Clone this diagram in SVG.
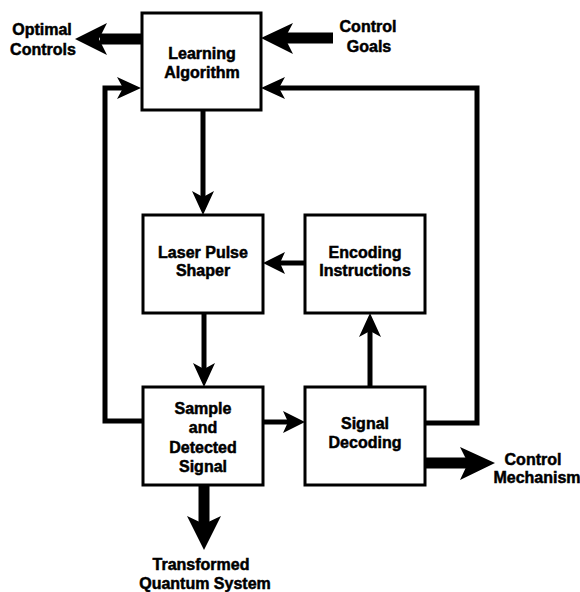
<svg xmlns="http://www.w3.org/2000/svg" width="580" height="592" viewBox="0 0 580 592">
  <style>
    .box { fill: #fff; stroke: #000; stroke-width: 3; }
    .lbl { font-family: "Liberation Sans", Arial, sans-serif; font-weight: bold; font-size: 16px; fill: #000; stroke: #000; stroke-width: 0.5; text-anchor: middle; }
    .thin { fill: none; stroke: #000; stroke-width: 5; stroke-linejoin: miter; }
    .thick { fill: none; stroke: #000; stroke-width: 11; }
    .head { fill: #000; stroke: none; }
  </style>
  <rect width="580" height="592" fill="#fff"/>

  <!-- connectors -->
  <g id="connectors">
    <!-- Optimal Controls output -->
    <line class="thick" x1="141" y1="39" x2="100" y2="39"/>
    <path class="head" d="M75,39 L107,23 L99,39 L107,55 Z"/>
    <!-- Control Goals input -->
    <line class="thick" x1="333" y1="38" x2="285" y2="38"/>
    <path class="head" d="M261,38 L293,23 L285,38 L293,54 Z"/>
    <!-- left feedback: Sample -> Learning Algorithm -->
    <path class="thin" d="M142,421 H105 V88 H125"/>
    <path class="head" d="M141,88 L117,77 L123,88 L117,99 Z"/>
    <!-- right feedback: Signal Decoding -> Learning Algorithm -->
    <path class="thin" d="M425,423 H477 V88 H275"/>
    <path class="head" d="M261,88 L285,77 L279,88 L285,99 Z"/>
    <!-- Learning Algorithm -> Laser Pulse Shaper -->
    <line class="thin" x1="203" y1="110" x2="203" y2="198"/>
    <path class="head" d="M203,215 L192,191 L203,197 L214,191 Z"/>
    <!-- Encoding Instructions -> Laser Pulse Shaper -->
    <line class="thin" x1="305" y1="263" x2="278" y2="263"/>
    <path class="head" d="M263,263 L285,252 L280,263 L285,274 Z"/>
    <!-- Laser Pulse Shaper -> Sample -->
    <line class="thin" x1="204" y1="313" x2="204" y2="370"/>
    <path class="head" d="M204,387 L193,363 L204,369 L215,363 Z"/>
    <!-- Sample -> Signal Decoding -->
    <line class="thin" x1="263" y1="422" x2="290" y2="422"/>
    <path class="head" d="M305,422 L283,411 L288,422 L283,433 Z"/>
    <!-- Signal Decoding -> Encoding Instructions -->
    <line class="thin" x1="370" y1="387" x2="370" y2="330"/>
    <path class="head" d="M370,313 L359,337 L370,331 L381,337 Z"/>
    <!-- Control Mechanism output -->
    <line class="thick" x1="425" y1="463" x2="470" y2="463"/>
    <path class="head" d="M495,463 L460,447 L468,463 L460,480 Z"/>
    <!-- Transformed Quantum System output -->
    <line class="thick" x1="204" y1="485" x2="204" y2="525"/>
    <path class="head" d="M204,550 L187,516 L204,524 L221,516 Z"/>
  </g>

  <!-- nodes -->
  <g id="learning">
    <rect class="box" x="142" y="13" width="119" height="97"/>
    <text class="lbl" x="202" y="59">Learning</text>
    <text class="lbl" x="202" y="78">Algorithm</text>
  </g>
  <g id="laser">
    <rect class="box" x="143" y="215" width="120" height="98"/>
    <text class="lbl" x="203" y="258">Laser Pulse</text>
    <text class="lbl" x="203" y="276">Shaper</text>
  </g>
  <g id="encoding">
    <rect class="box" x="305" y="215" width="120" height="98"/>
    <text class="lbl" x="365" y="258">Encoding</text>
    <text class="lbl" x="365" y="276">Instructions</text>
  </g>
  <g id="sample">
    <rect class="box" x="143" y="387" width="120" height="98"/>
    <text class="lbl" x="203" y="414">Sample</text>
    <text class="lbl" x="203" y="433">and</text>
    <text class="lbl" x="203" y="453">Detected</text>
    <text class="lbl" x="203" y="472">Signal</text>
  </g>
  <g id="decoding">
    <rect class="box" x="305" y="387" width="120" height="98"/>
    <text class="lbl" x="365" y="429">Signal</text>
    <text class="lbl" x="365" y="448">Decoding</text>
  </g>
  <g id="optimal-controls">
    <text class="lbl" x="42" y="35">Optimal</text>
    <text class="lbl" x="43" y="55">Controls</text>
  </g>
  <g id="control-goals">
    <text class="lbl" x="368" y="32">Control</text>
    <text class="lbl" x="369" y="52">Goals</text>
  </g>
  <g id="control-mechanism">
    <text class="lbl" x="533" y="465">Control</text>
    <text class="lbl" x="537" y="483">Mechanism</text>
  </g>
  <g id="quantum-system">
    <text class="lbl" x="201" y="570">Transformed</text>
    <text class="lbl" x="205" y="589">Quantum System</text>
  </g>
</svg>
